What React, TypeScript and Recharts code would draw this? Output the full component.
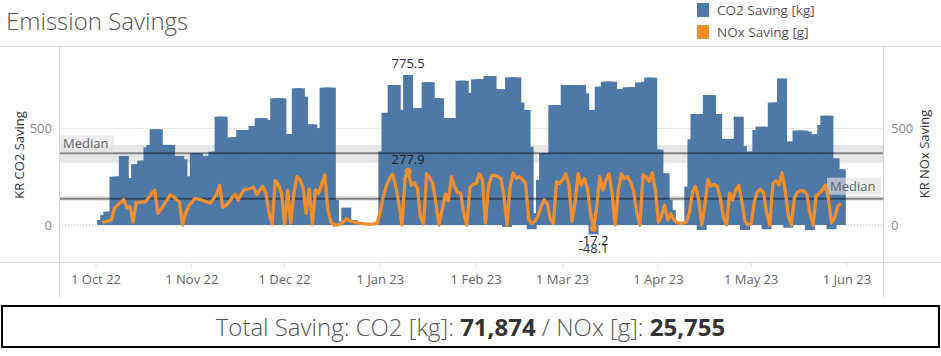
import React from 'react';
import {
  ComposedChart,
  Bar,
  Line,
  XAxis,
  YAxis,
  ReferenceLine,
  ReferenceArea,
  ReferenceDot,
} from 'recharts';

const BLUE = '#4e79a7';
const ORANGE = '#f28e2b';
const FONT = '"Open Sans", "Noto Sans", Arial, sans-serif';
const BAR_W = 10; // the daily bars are drawn wider than one day, like in Tableau

// day numbers are counted from 1 Oct 2022
const monthStarts = [0, 31, 61, 92, 123, 151, 182, 212, 243];
const monthLabels = [
  '1 Oct 22', '1 Nov 22', '1 Dec 22', '1 Jan 23', '1 Feb 23',
  '1 Mar 23', '1 Apr 23', '1 May 23', '1 Jun 23',
];
const firstDay = 2; // Mon 3 Oct 2022

// CO2 saving [kg] per day
const co2Oct = [26, 52, 69, 69, 250, 250, 250, 357, 241, 241, 241, 315, 315, 333, 333, 402, 414, 495, 495, 414, 414, 414, 414, 357, 357, 357, 340, 250, 250];
const co2Nov = [250, 371, 371, 357, 357, 319, 319, 379, 379, 560, 560, 426, 426, 453, 453, 453, 491, 491, 491, 491, 512, 512, 552, 552, 543, 543, 543, 655, 655, 655];
const co2Dec = [470, 470, 470, 470, 707, 707, 664, 520, 520, 520, 500, 500, 500, 710, 710, 710, 129, 17, 17, 17, 90, 26, 26, 12, 12, 3, 3, 3, 3, 3, 3];
const co2Jan = [3, 380, 580, 580, 724, 724, 595, 595, 595, 775.5, 603, 603, 603, 603, 603, 738, 738, 655, 655, 655, 552, 552, 552, 552, 552, 552, 746, 746, 681, 681, 681];
const co2Feb = [753, 753, 753, 753, 770, 770, 701, 701, 701, 701, -10, 763, 763, 763, 633, 595, 595, 405, -22, 60, 60, 233, 371, 371, 371, 620, 620, 620];
const co2Mar = [620, 724, 724, 724, 724, 724, 724, 681, 595, 595, -48.1, 595, 715, 715, 741, 741, 741, 701, 701, 701, 701, 712, 712, 712, 712, 736, 736, 741, 762, 762, 390];
const co2Apr = [390, 267, 267, 129, 78, 12, 12, 12, 12, 12, 198, 443, 574, 574, -26, 574, 672, 672, 574, 574, 445, 445, 445, 445, 445, 445, 560, 408, -26, 379];
const co2May = [379, 379, 491, 508, 508, -22, 508, 633, 633, 633, 758, 431, -14, 431, 431, 488, 488, 488, 483, -26, 457, 469, 469, 517, 565, 565, -22, 345, 288, 288];

// NOx saving [g] per day
const noxOct = [13, 18, 22, 26, 88, 103, 118, 132, 88, 95, 15, 115, 117, 119, 121, 140, 163, 181, 60, 80, 105, 130, 155, 148, 132, 120, 0, 60, 98];
const noxNov = [118, 138, 134, 130, 124, 119, 113, 135, 158, 205, 92, 100, 118, 140, 160, 128, 160, 183, 186, 190, 196, 158, 180, 200, 164, 60, 5, 230, 210, 165];
const noxDec = [5, 180, 10, 160, 250, 235, 195, 60, 185, 5, 181, 164, 210, 259, 80, 17, 0, 0, 5, 15, 32, 22, 17, 12, 10, 8, 6, 5, 5, 6, 10];
const noxJan = [70, 150, 205, 240, 262, 200, 110, 0, 245, 277.9, 205, 220, 190, 40, 5, 265, 245, 212, 112, 0, 80, 160, 125, 250, 200, 168, 165, 60, 0, 195, 210];
const noxFeb = [215, 265, 235, 10, 200, 255, 258, 250, 240, 150, 0, 200, 268, 242, 250, 233, 215, 30, 8, 20, 45, 95, 130, 110, 30, 8, 224, 215];
const noxMar = [233, 265, 210, 20, 115, 265, 205, 240, 190, 60, -17.2, 90, 250, 180, 233, 265, 160, 0, 180, 265, 240, 250, 220, 172, 60, 0, 260, 250, 225, 270, 180];
const noxApr = [15, 50, 103, 26, 60, 28, 12, 9, 10, 15, 65, 170, 200, 130, 0, 100, 235, 200, 210, 200, 140, 40, 0, 164, 129, 181, 205, 120, 20, 0];
const noxMay = [5, 121, 172, 184, 168, 60, 0, 215, 229, 207, 270, 180, 50, 0, 140, 170, 178, 176, 160, 60, 0, 150, 164, 180, 207, 135, 10, 40, 95, 112];

// reference lines / bands
const co2Median = 371;
const co2Band = [322, 414];
const noxMedian = 136;
const noxBand = [126, 150];

const totalCo2 = 71874;
const totalNox = 25755;

const co2 = [...co2Oct, ...co2Nov, ...co2Dec, ...co2Jan, ...co2Feb, ...co2Mar, ...co2Apr, ...co2May];
const nox = [...noxOct, ...noxNov, ...noxDec, ...noxJan, ...noxFeb, ...noxMar, ...noxApr, ...noxMay];
const data = co2.map((v, i) => ({ day: firstDay + i, co2: v, nox: nox[i] }));

const pick = (key: 'co2' | 'nox', cmp: (a: number, b: number) => boolean) =>
  data.reduce((best, row) => (cmp(row[key], best[key]) ? row : best));
const maxCo2 = pick('co2', (a, b) => a > b);
const minCo2 = pick('co2', (a, b) => a < b);
const maxNox = pick('nox', (a, b) => a > b);
const minNox = pick('nox', (a, b) => a < b);

const X_DOMAIN = [-11.97, 254.65];
const Y_DOMAIN = [-191.3, 920.4];

function WideBar(props: any) {
  const { x, y, width, height } = props;
  if (x == null || y == null || height == null) return null;
  const cx = x + width / 2;
  const top = Math.min(y, y + height);
  return <rect x={cx - BAR_W / 2} y={top} width={BAR_W} height={Math.abs(height)} fill={BLUE} />;
}

function MedianTag(props: any) {
  const { viewBox, side } = props;
  if (!viewBox) return null;
  const { x, y, width } = viewBox;
  const w = 54;
  const h = 17;
  const left = side === 'left' ? x + 1 : x + width - w - 2;
  const top = side === 'left' ? y - 18 : y - 21;
  return (
    <g>
      <rect x={left} y={top} width={w} height={h} fill="rgba(226,226,226,0.65)" />
      <text x={left + 3} y={top + 13} fontSize={13} fill="#666" fontFamily={FONT}>
        Median
      </text>
    </g>
  );
}

const tickStyle = { fill: '#888', fontSize: 13, fontFamily: FONT };

export default function App() {
  return (
    <div style={{ position: 'absolute', left: 0, top: 0, width: 941, height: 356, background: '#fff', fontFamily: FONT }}>
      <ComposedChart
        width={941}
        height={356}
        data={data}
        margin={{ top: 47, right: 0, bottom: 64, left: 0 }}
      >
        <XAxis
          dataKey="day"
          type="number"
          domain={X_DOMAIN}
          allowDataOverflow
          ticks={monthStarts}
          tickFormatter={(v: number) => monthLabels[monthStarts.indexOf(v)] ?? ''}
          axisLine={false}
          tickLine={{ stroke: '#dcdcdc' }}
          tickSize={5}
          tickMargin={8}
          height={30}
          interval={0}
          tick={{ fill: '#666', fontSize: 13, fontFamily: FONT }}
        />
        <YAxis
          yAxisId="left"
          type="number"
          domain={Y_DOMAIN}
          allowDataOverflow
          ticks={[0, 500]}
          width={59}
          axisLine={false}
          tickLine={false}
          tickSize={0}
          tickMargin={7}
          tick={tickStyle}
        />
        <YAxis
          yAxisId="right"
          orientation="right"
          type="number"
          domain={Y_DOMAIN}
          allowDataOverflow
          ticks={[0, 500]}
          width={58}
          axisLine={false}
          tickLine={false}
          tickSize={0}
          tickMargin={8}
          tick={{ ...tickStyle, textAnchor: 'start' }}
        />

        <ReferenceArea yAxisId="left" y1={co2Band[0]} y2={co2Band[1]} fill="#e6e6e6" fillOpacity={1} stroke="none" zIndex={-50} />
        <ReferenceArea yAxisId="right" y1={noxBand[0]} y2={noxBand[1]} fill="#e6e6e6" fillOpacity={1} stroke="none" zIndex={-50} />
        <ReferenceLine yAxisId="left" y={500} stroke="#e8e8e8" strokeWidth={1} zIndex={-40} />
        <ReferenceLine yAxisId="left" y={0} stroke="#bdbdbd" strokeDasharray="1 2" zIndex={-40} />

        <Bar
          yAxisId="left"
          dataKey="co2"
          barSize={3}
          fill={BLUE}
          shape={WideBar}
          isAnimationActive={false}
        />

        <ReferenceLine
          yAxisId="left"
          y={co2Median}
          stroke="rgba(0,0,0,0.42)"
          strokeWidth={2}
          zIndex={350}
          label={(p: any) => <MedianTag {...p} side="left" />}
        />
        <ReferenceLine
          yAxisId="right"
          y={noxMedian}
          stroke="rgba(0,0,0,0.42)"
          strokeWidth={2}
          zIndex={350}
          label={(p: any) => <MedianTag {...p} side="right" />}
        />

        <Line
          yAxisId="right"
          dataKey="nox"
          type="linear"
          stroke={ORANGE}
          strokeWidth={3.3}
          strokeLinejoin="round"
          dot={false}
          activeDot={false}
          isAnimationActive={false}
        />

        <ReferenceDot
          yAxisId="left"
          x={maxCo2.day}
          y={maxCo2.co2}
          r={0}
          stroke="none"
          fill="none"
          label={{ value: maxCo2.co2.toFixed(1), position: 'top', offset: 7, fill: '#333', fontSize: 13, fontFamily: FONT }}
        />
        <ReferenceDot
          yAxisId="left"
          x={minCo2.day}
          y={minCo2.co2}
          r={0}
          stroke="none"
          fill="none"
          label={{ value: minCo2.co2.toFixed(1), position: 'bottom', offset: 9, fill: '#333', fontSize: 13, fontFamily: FONT }}
        />
        <ReferenceDot
          yAxisId="right"
          x={maxNox.day}
          y={maxNox.nox}
          r={3.5}
          stroke="none"
          fill={ORANGE}
          label={{ value: maxNox.nox.toFixed(1), position: 'top', offset: 4, fill: '#222', fontSize: 13, fontFamily: FONT }}
        />
        <ReferenceDot
          yAxisId="right"
          x={minNox.day}
          y={minNox.nox}
          r={3.5}
          stroke="none"
          fill={ORANGE}
          label={{ value: minNox.nox.toFixed(1), position: 'bottom', offset: 4, fill: '#222', fontSize: 13, fontFamily: FONT }}
        />
      </ComposedChart>

      {/* pane borders, titles and legend */}
      <svg width={941} height={356} style={{ position: 'absolute', left: 0, top: 0, pointerEvents: 'none' }}>
        <line x1={0} x2={941} y1={46.5} y2={46.5} stroke="#d4d4d4" />
        <line x1={0} x2={941} y1={262.5} y2={262.5} stroke="#d4d4d4" />
        <line x1={59.5} x2={59.5} y1={46.5} y2={297} stroke="#d4d4d4" />
        <line x1={883.5} x2={883.5} y1={46.5} y2={297} stroke="#d4d4d4" />

        <text x={6} y={30} fontSize={24} fontWeight={300} fill="#555" fontFamily={FONT}>
          Emission Savings
        </text>

        <rect x={697} y={3} width={12} height={14} fill={BLUE} />
        <text x={717} y={15} fontSize={13.5} fill="#555" fontFamily={FONT}>CO2 Saving [kg]</text>
        <rect x={697} y={25} width={12} height={14} fill={ORANGE} />
        <text x={717} y={37} fontSize={13.5} fill="#555" fontFamily={FONT}>NOx Saving [g]</text>

        <text
          x={18.5}
          y={155}
          transform="rotate(-90 18.5 155)"
          textAnchor="middle"
          dominantBaseline="central"
          fontSize={13}
          fill="#333"
          fontFamily={FONT}
        >
          KR CO2 Saving
        </text>
        <text
          x={924}
          y={154}
          transform="rotate(-90 924 154)"
          textAnchor="middle"
          dominantBaseline="central"
          fontSize={13}
          fill="#333"
          fontFamily={FONT}
        >
          KR NOx Saving
        </text>
      </svg>

      <div
        style={{
          position: 'absolute',
          left: 1,
          top: 305,
          width: 939,
          height: 43,
          boxSizing: 'border-box',
          border: '2.5px solid #000',
          display: 'flex',
          alignItems: 'center',
          justifyContent: 'center',
          fontSize: 24,
          fontWeight: 300,
          color: '#555',
          whiteSpace: 'pre',
        }}
      >
        Total Saving: CO2 [kg]: <b style={{ color: '#333', fontWeight: 700 }}>{totalCo2.toLocaleString('en-US')}</b> / NOx [g]:{' '}
        <b style={{ color: '#333', fontWeight: 700 }}>{totalNox.toLocaleString('en-US')}</b>
      </div>
    </div>
  );
}
